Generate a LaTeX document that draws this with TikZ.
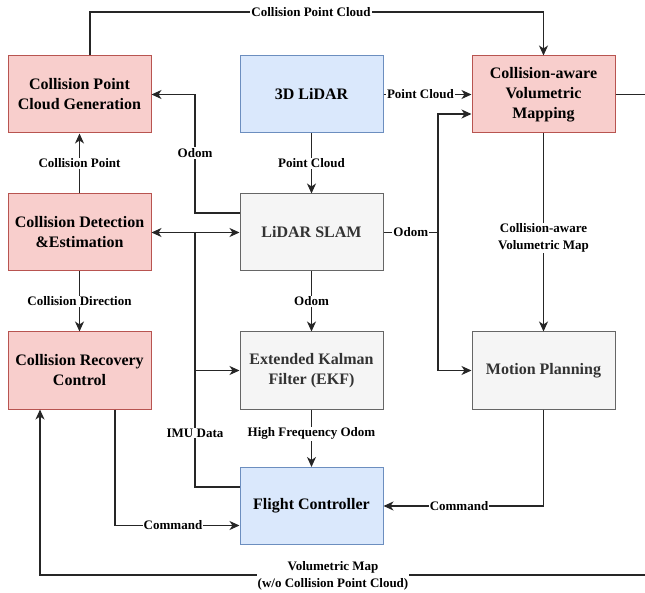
\documentclass[tikz,border=0pt]{standalone}
\usepackage{fontspec}
\setmainfont{Liberation Serif}
\usetikzlibrary{arrows.meta,calc}
\definecolor{redfill}{HTML}{F8CECC}
\definecolor{reddraw}{HTML}{B85450}
\definecolor{bluefill}{HTML}{DAE8FC}
\definecolor{bluedraw}{HTML}{6C8EBF}
\definecolor{grayfill}{HTML}{F5F5F5}
\definecolor{graydraw}{HTML}{666666}
\definecolor{graytext}{HTML}{333333}
\tikzset{
  box/.style={rectangle, minimum width=143pt, minimum height=77pt, inner sep=0pt,
    line width=1pt, align=center, font=\fontsize{16}{20}\selectfont\bfseries},
  redbox/.style={box, fill=redfill, draw=reddraw},
  bluebox/.style={box, fill=bluefill, draw=bluedraw},
  graybox/.style={box, fill=grayfill, draw=graydraw, text=graytext},
  lbl/.style={fill=white, inner sep=1pt, align=center, font=\fontsize{13}{17}\selectfont\bfseries},
  conn/.style={line width=1.2pt, draw=black!85},
  arr/.style={conn, -{Stealth[length=10pt,width=9pt,inset=3pt]}},
  darr/.style={conn, {Stealth[length=10pt,width=9pt,inset=3pt]}-{Stealth[length=10pt,width=9pt,inset=3pt]}},
}
\begin{document}
\begin{tikzpicture}[x=1pt,y=-1pt]
\useasboundingbox (0,0) rectangle (645,593);
% boxes
\node[redbox]  (cpcg) at (79.5,94.5)  {Collision Point\\Cloud Generation};
\node[bluebox] (lidar) at (311.5,94.5) {3D LiDAR};
\node[redbox]  (cvm) at (543.5,94.5)  {Collision-aware\\Volumetric\\Mapping};
\node[redbox]  (cde) at (79.5,232.5)  {Collision Detection\\\&Estimation};
\node[graybox] (slam) at (311.5,232.5) {LiDAR SLAM};
\node[redbox]  (crc) at (79.5,370.5)  {Collision Recovery\\Control};
\node[graybox] (ekf) at (311.5,370.5) {Extended Kalman\\Filter (EKF)};
\node[graybox] (mp) at (543.5,370.5)  {Motion Planning};
\node[bluebox] (fc) at (311.5,506)    {Flight Controller};

% junctions
\coordinate (jtop) at (311,12);
\coordinate (jimu) at (195,232.5);
\coordinate (jodom) at (438,232.5);
\coordinate (jbot) at (333,575.5);

% collision point cloud top
\draw[arr] ($(cpcg.north)+(10.5,0)$) |- (jtop) -| (cvm.north);
\node[lbl] (lcpc) at (jtop) {Collision Point Cloud};

% lidar -> cvm
\draw[arr] (lidar.east) -- node[lbl,pos=0.42] (lpc1) {Point Cloud} (cvm.west);
% lidar -> slam
\draw[arr] (lidar.south) -- node[lbl] (lpc2) {Point Cloud} (slam.north);

% slam -> cpcg (Odom)
\draw[arr] ($(slam.west)+(0,-19.5)$) -- (195,213) |- (cpcg.east);
\node[lbl] (lodom1) at (195,153) {Odom};

% IMU data
\draw[darr] (cde.east) -- (slam.west);
\draw[conn] ($(fc.west)+(0,-19)$) -| (jimu);
\node[lbl] (limu) at (195,433) {IMU Data};
\draw[arr] (jimu |- ekf.west) -- (ekf.west);

% slam -> odom -> cvm, mp
\draw[conn] (slam.east) -- node[lbl] (lodom2) {Odom} (jodom);
\draw[arr] (jodom) |- ($(cvm.west)+(0,19.5)$);
\draw[arr] (jodom) |- (mp.west);

% cvm -> mp
\draw[arr] (cvm.south) -- (mp.north);
\node[lbl] (lcvmap) at (543.5,238) {Collision-aware\\Volumetric Map};

% cde -> cpcg, cde -> crc
\draw[arr] (cde.north) -- node[lbl] (lcp) {Collision Point} (cpcg.south);
\draw[arr] (cde.south) -- node[lbl] (lcd) {Collision Direction} (crc.north);

% slam -> ekf -> fc
\draw[arr] (slam.south) -- node[lbl] (lodom3) {Odom} (ekf.north);
\draw[arr] (ekf.south) -- node[lbl,pos=0.42] (lhfo) {High Frequency Odom} (fc.north);

% commands
\draw[arr] ($(crc.south)+(35.5,0)$) |- ($(fc.west)+(0,19.5)$);
\node[lbl] (lcmd1) at (173,525.5) {Command};
\draw[arr] (mp.south) |- (fc.east);
\node[lbl] (lcmd2) at (459,506) {Command};

% volumetric map loop
\draw[arr] (cvm.east) -- (652,94.5) -- (652,575) -- (40,575) -- ($(crc.south)+(-39.5,0)$);
\node[lbl] (lvm) at (jbot) {Volumetric Map\\(w/o Collision Point Cloud)};
\end{tikzpicture}
\end{document}
